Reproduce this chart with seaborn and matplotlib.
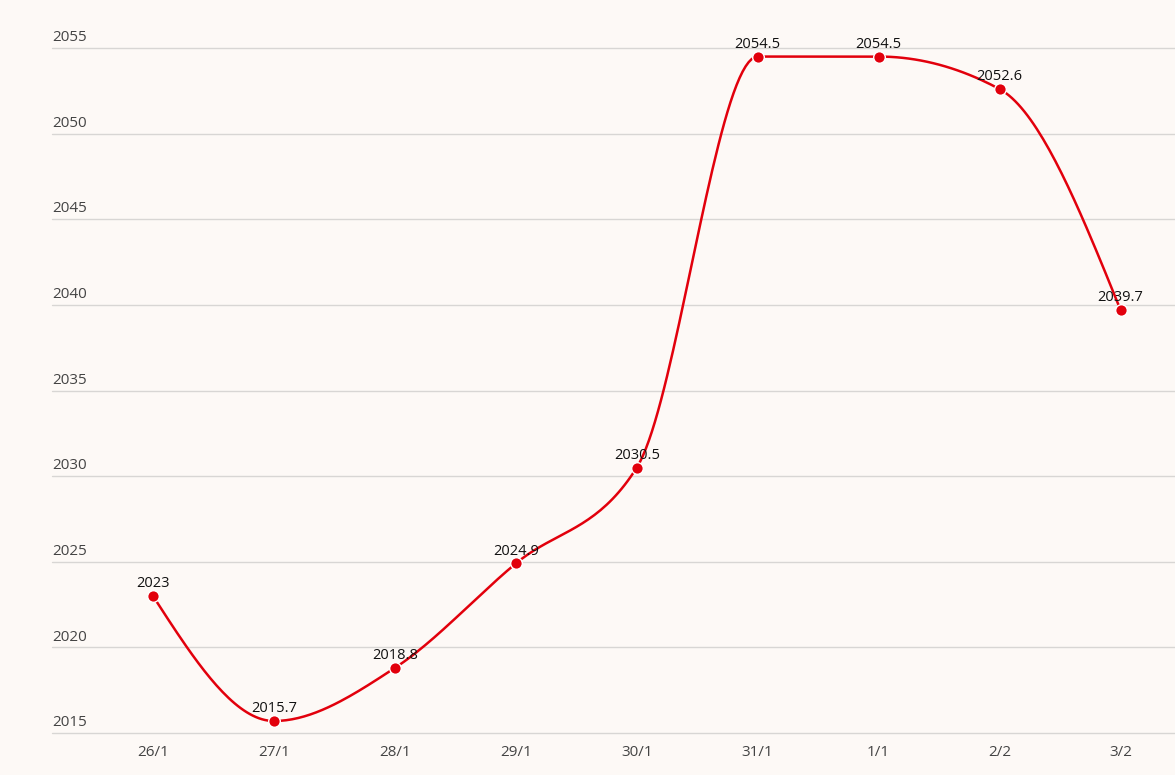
import numpy as np
import pandas as pd
import matplotlib
matplotlib.use("Agg")
import matplotlib.pyplot as plt
import matplotlib.transforms as mtransforms
import seaborn as sns

dates = ["26/1", "27/1", "28/1", "29/1", "30/1", "31/1", "1/1", "2/2", "3/2"]
values = [2023, 2015.7, 2018.8, 2024.9, 2030.5, 2054.5, 2054.5, 2052.6, 2039.7]
labels = ["2023", "2015.7", "2018.8", "2024.9", "2030.5", "2054.5", "2054.5", "2052.6", "2039.7"]
yticks = [2015, 2020, 2025, 2030, 2035, 2040, 2045, 2050, 2055]

BG = "#fdf9f6"
RED = "#e2000c"
GRID = "#d8d6d4"
TXT = "#444444"


def monotone_curve(x, y, n=40):
    x = np.asarray(x, float)
    y = np.asarray(y, float)
    h = np.diff(x)
    s = np.diff(y) / h
    t = np.zeros_like(y)
    for i in range(1, len(y) - 1):
        s0, s1 = s[i - 1], s[i]
        p = (s0 * h[i] + s1 * h[i - 1]) / (h[i - 1] + h[i])
        t[i] = (np.sign(s0) + np.sign(s1)) * min(abs(s0), abs(s1), 0.5 * abs(p))
    t[0] = (3 * s[0] - t[1]) / 2
    t[-1] = (3 * s[-1] - t[-2]) / 2
    xs, ys = [], []
    for i in range(len(y) - 1):
        u = np.linspace(0, 1, n, endpoint=(i == len(y) - 2))
        h00 = 2 * u**3 - 3 * u**2 + 1
        h10 = u**3 - 2 * u**2 + u
        h01 = -2 * u**3 + 3 * u**2
        h11 = u**3 - u**2
        xs.append(x[i] + u * h[i])
        ys.append(h00 * y[i] + h10 * h[i] * t[i] + h01 * y[i + 1] + h11 * h[i] * t[i + 1])
    return np.concatenate(xs), np.concatenate(ys)


sns.set_theme(style="white")
plt.rcParams["font.family"] = ["Open Sans", "DejaVu Sans"]

fig = plt.figure(figsize=(11.75, 7.75), dpi=100, facecolor=BG)
ax = fig.add_axes([52 / 1175, 42 / 775, 1 - 52 / 1175, (733 - 48) / 775])
ax.set_facecolor(BG)

idx = np.arange(len(dates))
cx, cy = monotone_curve(idx, values)
sns.lineplot(x=cx, y=cy, ax=ax, color=RED, linewidth=1.8, sort=False, estimator=None)
df = pd.DataFrame({"i": idx, "v": values})
sns.scatterplot(data=df, x="i", y="v", ax=ax, color=RED, s=70, edgecolor="white",
                linewidth=1.0, zorder=5)

for i, (v, lab) in enumerate(zip(values, labels)):
    ax.annotate(lab, (i, v), xytext=(0, 3.5), textcoords="offset points",
                ha="center", va="bottom", fontsize=10.5, color="#111111", zorder=6)

ax.set_xlim(-0.835, 8.45)
ax.set_ylim(2015, 2055)
ax.set_yticks(yticks)
ax.set_yticklabels([])
ax.tick_params(axis="y", length=0)
ax.grid(axis="y", color=GRID, linewidth=1)
for gl in ax.get_ygridlines():
    gl.set_clip_on(False)
ax.grid(axis="x", visible=False)
ax.set_xticks(idx)
ax.set_xticklabels(dates, fontsize=11, color=TXT)
ax.tick_params(axis="x", length=0, pad=9)
for sp in ax.spines.values():
    sp.set_visible(False)
ax.set_xlabel("")
ax.set_ylabel("")

trans = mtransforms.blended_transform_factory(ax.transAxes, ax.transData)
for yv in yticks:
    ax.annotate(str(yv), (0, yv), xycoords=trans, xytext=(0, 2), textcoords="offset points",
                ha="left", va="bottom", fontsize=11, color=TXT, clip_on=False)

fig.savefig("out.png", dpi=100, facecolor=BG)
